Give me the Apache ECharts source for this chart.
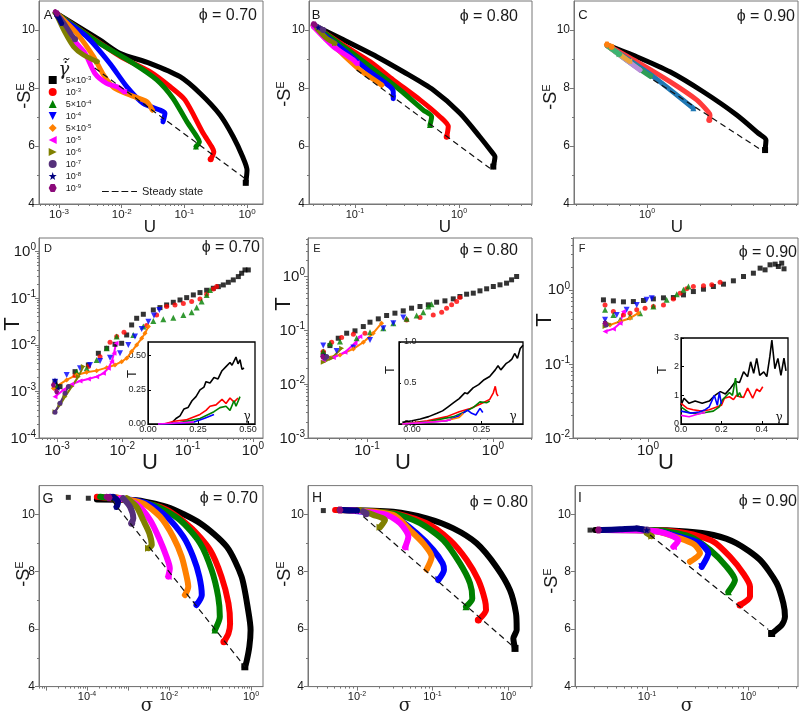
<!DOCTYPE html>
<html><head><meta charset="utf-8">
<script src="https://cdn.jsdelivr.net/npm/echarts@6/dist/echarts.min.js"></script>
<style>html,body{margin:0;padding:0;background:#fff}#c{width:800px;height:714px}</style>
</head><body><div id="c"></div><script>
// ================= DATA =================
// strain-rate labels (legend) and steady-state label
const rateLabels = ['5×10^-3','10^-3','5×10^-4','10^-4','5×10^-5','10^-5','10^-6','10^-7','10^-8','10^-9'];
const steadyLabel = 'Steady state';

// Panel A (phi = 0.70): [log10 U, -S^E]
const A_curves = [
 [[-3.06,10.60],[-2.35,9.66],[-2.03,9.20],[-1.55,8.85],[-1.07,8.39],[-0.75,7.82],[-0.43,7.07],[-0.22,6.32],[-0.07,5.63],[0.00,5.17],[-0.02,4.73]],
 [[-3.06,10.60],[-2.03,9.10],[-1.55,8.56],[-1.23,8.05],[-0.99,7.59],[-0.70,6.44],[-0.565,5.98],[-0.53,5.80],[-0.58,5.54]],
 [[-3.06,10.60],[-2.35,9.54],[-1.815,8.85],[-1.44,8.28],[-1.18,7.64],[-0.96,6.84],[-0.80,6.32],[-0.76,6.15],[-0.815,5.98]],
 [[-3.04,10.52],[-2.56,9.77],[-2.19,8.85],[-1.92,8.05],[-1.655,7.47],[-1.39,7.24],[-1.31,7.13],[-1.34,6.84]],
 [[-3.01,10.52],[-2.72,9.89],[-2.45,9.08],[-2.29,8.45],[-2.13,8.02],[-1.87,7.76],[-1.60,7.53],[-1.51,7.24]],
 [[-3.04,10.52],[-2.88,10.0],[-2.72,9.54],[-2.585,9.20],[-2.43,8.51],[-2.24,8.16],[-2.05,8.02],[-1.96,7.87]],
 [[-3.04,10.52],[-2.90,9.89],[-2.77,9.43],[-2.61,9.14],[-2.39,8.91]],
 [[-3.03,10.55],[-2.90,10.17],[-2.80,9.83],[-2.745,9.68]],
 [[-3.04,10.52],[-3.0,10.40],[-2.96,10.23]],
 [[-3.06,10.63],[-3.03,10.57]]
];
const A_steady = [[-2.43,8.69],[0.0,4.83]];

// Panel B (phi = 0.80): [log10 U, -S^E]
const B_curves = [
 [[-1.40,10.17],[-1.11,9.66],[-0.79,9.08],[-0.535,8.56],[-0.247,7.93],[0.01,7.13],[0.20,6.32],[0.314,5.80],[0.346,5.63],[0.33,5.29]],
 [[-1.40,10.17],[-1.11,9.48],[-0.856,8.91],[-0.632,8.28],[-0.375,7.59],[-0.183,7.01],[-0.103,6.67],[-0.118,6.32]],
 [[-1.40,10.17],[-1.11,9.43],[-0.856,8.74],[-0.567,7.93],[-0.343,7.24],[-0.263,7.01],[-0.279,6.72]],
 [[-1.40,10.12],[-1.11,9.31],[-0.856,8.56],[-0.663,8.05],[-0.632,7.87],[-0.632,7.64]],
 [[-1.40,10.12],[-1.144,9.25],[-0.952,8.62],[-0.79,8.22],[-0.743,8.10]],
 [[-1.40,10.12],[-1.209,9.43],[-1.016,8.97],[-0.984,8.85]],
 [[-1.37,10.07],[-1.272,9.71],[-1.192,9.54]],
 [[-1.385,10.17],[-1.305,10.0]],
 [[-1.353,10.09]],
 [[-1.40,10.21],[-1.39,10.19]]
];
const B_steady = [[-0.984,8.62],[0.298,5.23]];

// Panel C (phi = 0.90): [log10 U, -S^E]
const C_curves = [
 [[-0.224,9.48],[-0.058,9.08],[0.13,8.56],[0.318,7.87],[0.507,7.07],[0.629,6.44],[0.672,6.21],[0.667,5.86]],
 [[-0.224,9.48],[-0.058,8.91],[0.13,8.22],[0.281,7.59],[0.346,7.18],[0.356,7.07],[0.352,6.90]],
 [[-0.224,9.46],[0.036,8.39],[0.262,7.30]],
 [[-0.224,9.46],[-0.10,8.90],[0.02,8.40]],
 [[-0.224,9.46],[-0.04,8.62]],
 [[-0.224,9.46],[-0.10,8.92]],
 [[-0.224,9.46],[-0.155,9.16]],
 [[-0.226,9.50],[-0.20,9.42]],
 [[-0.224,9.48]],
 [[-0.226,9.50]]
];
const C_steady = [[0.036,8.28],[0.661,5.80]];

// Panel D (phi = 0.70): [log10 U, log10 T]
const D_points = [
 [[-3.031,-2.791],[-2.954,-2.898],[-2.724,-2.577],[-2.520,-2.433],[-2.367,-2.183],[-2.239,-2.076],[-2.112,-1.990],[-2.010,-1.969],[-1.933,-1.790],[-1.857,-1.575],[-1.780,-1.432],[-1.678,-1.346],[-1.525,-1.253],[-1.423,-1.203],[-1.321,-1.146],[-1.219,-1.089],[-1.116,-1.039],[-1.014,-0.989],[-0.912,-0.931],[-0.810,-0.881],[-0.708,-0.831],[-0.606,-0.788],[-0.529,-0.753],[-0.453,-0.717],[-0.376,-0.660],[-0.300,-0.609],[-0.223,-0.538],[-0.172,-0.466],[-0.121,-0.395],[-0.070,-0.395]],
 [[-3.031,-2.934],[-2.724,-2.662],[-2.520,-2.469],[-2.341,-2.255],[-2.188,-1.947],[-2.086,-1.825],[-1.974,-1.733],[-1.627,-1.589],[-1.474,-1.360],[-1.321,-1.182],[-1.193,-1.146],[-1.065,-1.117],[-0.938,-1.074],[-0.810,-1.017],[-0.708,-0.917],[-0.606,-0.803],[-0.555,-0.753]],
 [[-3.005,-2.898],[-2.699,-2.577],[-2.546,-2.505],[-2.393,-2.326],[-2.239,-2.076],[-2.086,-1.825],[-1.831,-1.790],[-1.678,-1.611],[-1.525,-1.489],[-1.372,-1.453],[-1.219,-1.418],[-1.065,-1.361],[-0.938,-1.303],[-0.861,-1.203],[-0.785,-1.074],[-0.708,-0.931],[-0.657,-0.824]],
 [[-3.031,-2.791],[-2.852,-2.648],[-2.648,-2.505],[-2.495,-2.433],[-2.341,-2.347],[-2.188,-2.276],[-2.035,-2.183],[-1.908,-2.004],[-1.806,-1.825],[-1.703,-1.661],[-1.601,-1.504],[-1.515,-1.375],[-1.433,-1.253]],
 [[-3.056,-2.934],[-2.852,-2.755],[-2.699,-2.648],[-2.546,-2.591],[-2.393,-2.555],[-2.239,-2.491],[-2.112,-2.433],[-2.010,-2.362],[-1.933,-2.290],[-1.857,-2.147],[-1.780,-2.004],[-1.703,-1.861],[-1.652,-1.754],[-1.601,-1.611]],
 [[-3.031,-3.113],[-2.903,-2.970],[-2.775,-2.848],[-2.648,-2.777],[-2.520,-2.734],[-2.393,-2.684],[-2.290,-2.612],[-2.214,-2.505],[-2.163,-2.362],[-2.127,-2.183],[-2.096,-1.969]],
 [[-3.031,-3.435],[-2.954,-3.292],[-2.877,-3.113],[-2.775,-2.898],[-2.673,-2.684],[-2.597,-2.469]],
 [[-3.031,-3.449],[-2.954,-3.256],[-2.877,-3.041],[-2.826,-2.898]],
 [[-3.031,-2.755],[-2.980,-2.934]],
 [[-3.056,-2.863],[-3.005,-3.006]]
];
// Panel D inset: [gamma, T]
const D_inset = [
 [[0.05,0.0],[0.09,0.0],[0.12,0.01],[0.14,0.04],[0.16,0.06],[0.18,0.11],[0.20,0.12],[0.22,0.17],[0.24,0.20],[0.26,0.25],[0.28,0.27],[0.29,0.31],[0.31,0.30],[0.33,0.34],[0.35,0.33],[0.37,0.39],[0.39,0.42],[0.41,0.45],[0.42,0.43],[0.44,0.49],[0.45,0.44],[0.46,0.47],[0.47,0.40],[0.48,0.41]],
 [[0.05,0.0],[0.08,0.0],[0.13,0.02],[0.19,0.03],[0.26,0.07],[0.29,0.10],[0.31,0.13],[0.34,0.14],[0.37,0.18],[0.39,0.15],[0.41,0.19],[0.43,0.16],[0.45,0.19]],
 [[0.05,0.0],[0.10,0.0],[0.16,0.01],[0.26,0.04],[0.33,0.09],[0.36,0.12],[0.39,0.13],[0.41,0.10],[0.43,0.17],[0.44,0.13],[0.46,0.20]],
 [[0.05,0.0],[0.08,0.0],[0.16,0.005],[0.23,0.015],[0.28,0.04],[0.33,0.07]],
 [],
 [[0.05,0.0],[0.23,0.015]]
];

// Panel E (phi = 0.80): [log10 U, log10 T]
const E_points = [
 [[-1.347,-1.423],[-1.294,-1.281],[-1.228,-1.144],[-1.161,-1.051],[-1.095,-1.007],[-1.029,-0.927],[-0.976,-0.846],[-0.910,-0.784],[-0.844,-0.722],[-0.778,-0.678],[-0.712,-0.635],[-0.646,-0.585],[-0.579,-0.554],[-0.513,-0.523],[-0.447,-0.474],[-0.381,-0.449],[-0.315,-0.412],[-0.262,-0.368],[-0.209,-0.325],[-0.156,-0.306],[-0.103,-0.263],[-0.050,-0.225],[0.003,-0.182],[0.056,-0.151],[0.108,-0.120],[0.148,-0.058],[0.188,0.004]],
 [[-1.347,-1.392],[-1.280,-1.219],[-1.201,-1.132],[-1.108,-1.070],[-1.016,-1.051],[-0.685,-0.803],[-0.579,-0.759],[-0.474,-0.710],[-0.407,-0.660],[-0.368,-0.585],[-0.328,-0.523],[-0.288,-0.461],[-0.262,-0.387]],
 [[-1.347,-1.392],[-1.294,-1.237],[-1.214,-1.206],[-1.082,-1.144],[-0.976,-1.032],[-0.870,-0.958],[-0.791,-0.865],[-0.685,-0.784],[-0.606,-0.722],[-0.553,-0.660],[-0.513,-0.554],[-0.487,-0.511]],
 [[-1.347,-1.281],[-1.241,-1.380],[-1.108,-1.318],[-0.976,-1.175],[-0.870,-0.958],[-0.791,-0.865],[-0.712,-0.759]],
 [[-1.347,-1.516],[-1.214,-1.454],[-1.108,-1.343],[-1.029,-1.219],[-0.950,-1.051],[-0.884,-0.865]],
 [[-1.347,-1.547],[-1.267,-1.504],[-1.175,-1.405],[-1.095,-1.237],[-1.056,-1.113]],
 [[-1.347,-1.591],[-1.280,-1.516],[-1.201,-1.330]],
 [[-1.333,-1.516],[-1.320,-1.485]],
 [[-1.347,-1.454]],
 [[-1.352,-1.485]]
];
// Panel E inset: [gamma, T]
const E_inset = [
 [[-0.035,0.02],[0.0,0.04],[0.03,0.06],[0.06,0.09],[0.09,0.13],[0.11,0.16],[0.13,0.21],[0.15,0.26],[0.17,0.31],[0.19,0.38],[0.20,0.37],[0.22,0.44],[0.24,0.48],[0.26,0.54],[0.28,0.58],[0.30,0.66],[0.31,0.71],[0.32,0.66],[0.34,0.74],[0.35,0.76],[0.36,0.79],[0.37,0.86],[0.38,0.80],[0.39,0.92],[0.40,0.96]],
 [[-0.035,0.0],[0.055,0.04],[0.125,0.09],[0.17,0.15],[0.21,0.19],[0.245,0.24],[0.28,0.30],[0.293,0.38],[0.30,0.46],[0.305,0.37],[0.31,0.34]],
 [[-0.035,0.0],[0.06,0.03],[0.15,0.09],[0.185,0.14],[0.22,0.20],[0.245,0.27],[0.27,0.26],[0.28,0.28]],
 [[-0.035,0.0],[0.125,0.04],[0.17,0.10],[0.20,0.17],[0.215,0.13],[0.23,0.11],[0.245,0.19],[0.255,0.14]],
 [[-0.035,0.0],[0.12,0.04],[0.17,0.08],[0.185,0.13]],
 [[-0.035,0.0],[0.10,0.03],[0.14,0.05]]
];

// Panel F (phi = 0.90): [log10 U, log10 T]
const F_points = [
 [[-0.252,-0.135],[-0.196,-0.149],[-0.139,-0.162],[-0.083,-0.158],[-0.026,-0.144],[0.030,-0.122],[0.087,-0.108],[0.143,-0.104],[0.200,-0.068],[0.256,-0.023],[0.313,0.009],[0.369,0.045],[0.426,0.077],[0.482,0.122],[0.539,0.180],[0.595,0.225],[0.633,0.293],[0.661,0.270],[0.689,0.338],[0.718,0.347],[0.736,0.315],[0.755,0.360],[0.768,0.284]],
 [[-0.243,-0.203],[-0.196,-0.293],[-0.139,-0.338],[-0.102,-0.315],[-0.064,-0.270],[-0.017,-0.248],[0.030,-0.225],[0.087,-0.203],[0.143,-0.122],[0.181,-0.045],[0.218,0.014],[0.256,0.045],[0.313,0.054],[0.360,0.068],[0.407,0.104]],
 [[-0.243,-0.270],[-0.196,-0.338],[-0.158,-0.405],[-0.102,-0.360],[-0.045,-0.315],[0.030,-0.225],[0.105,-0.135],[0.162,-0.059],[0.200,0.0],[0.228,0.045]],
 [[-0.243,-0.405],[-0.177,-0.338],[-0.121,-0.270],[-0.064,-0.203],[-0.008,-0.135],[0.021,-0.113]],
 [[-0.215,-0.473],[-0.158,-0.428],[-0.102,-0.383],[-0.055,-0.315]],
 [[-0.243,-0.563],[-0.196,-0.527],[-0.158,-0.450],[-0.139,-0.293]],
 [[-0.243,-0.495],[-0.218,-0.464]],
 [[-0.237,-0.473]],
 [[-0.243,-0.428]],
 [[-0.243,-0.450]]
];
// Panel F inset: [gamma, T]
const F_inset = [
 [[0.0,0.66],[0.015,0.9],[0.04,0.72],[0.07,0.8],[0.105,0.72],[0.14,0.8],[0.17,1.01],[0.195,1.13],[0.22,1.05],[0.245,1.25],[0.27,1.48],[0.29,1.45],[0.31,1.82],[0.33,1.65],[0.345,2.17],[0.36,1.77],[0.375,2.29],[0.39,1.7],[0.41,1.82],[0.425,1.65],[0.44,2.35],[0.45,2.93],[0.465,1.93],[0.48,2.29],[0.495,1.7],[0.51,2.3],[0.52,1.85]],
 [[0.0,0.72],[0.03,0.55],[0.06,0.5],[0.1,0.45],[0.14,0.5],[0.18,0.6],[0.2,0.65],[0.215,0.9],[0.24,0.95],[0.26,0.85],[0.275,1.0],[0.29,0.95],[0.31,0.93],[0.33,1.25],[0.355,0.9],[0.375,1.22],[0.39,1.13],[0.405,1.3]],
 [[0.0,0.6],[0.04,0.4],[0.08,0.35],[0.12,0.4],[0.16,0.45],[0.19,0.6],[0.205,0.84],[0.22,0.95],[0.24,1.1],[0.255,1.0],[0.27,1.6],[0.28,0.95],[0.29,1.1],[0.30,0.93]],
 [[0.0,0.45],[0.05,0.38],[0.09,0.42],[0.12,0.5],[0.14,0.6],[0.165,1.0],[0.18,0.65],[0.19,1.1],[0.2,0.7]],
 [],
 [[0.0,0.3],[0.04,0.25],[0.09,0.36],[0.12,0.4]]
];

// Panel G (phi = 0.70): [log10 sigma, -S^E]
const G_curves = [
 [[-3.76,10.52],[-2.87,10.50],[-2.06,10.26],[-1.24,9.69],[-0.59,8.87],[-0.23,7.83],[-0.07,6.67],[-0.01,5.97],[-0.04,5.39],[-0.11,4.86],[-0.15,4.69]],
 [[-3.76,10.61],[-2.22,10.26],[-1.49,9.57],[-1.00,8.76],[-0.72,7.83],[-0.55,6.90],[-0.51,6.20],[-0.55,5.85],[-0.66,5.56]],
 [[-3.68,10.61],[-2.38,10.32],[-1.73,9.80],[-1.24,8.99],[-0.96,8.06],[-0.80,7.13],[-0.76,6.43],[-0.88,5.97]],
 [[-3.44,10.61],[-2.54,10.38],[-2.06,9.92],[-1.65,9.22],[-1.41,8.52],[-1.26,7.83],[-1.20,7.19],[-1.33,6.84]],
 [[-3.28,10.59],[-2.63,10.38],[-2.22,9.92],[-1.90,9.22],[-1.69,8.52],[-1.57,7.83],[-1.53,7.48],[-1.61,7.19]],
 [[-3.20,10.56],[-2.79,10.35],[-2.46,9.80],[-2.22,9.10],[-2.06,8.52],[-1.98,8.12],[-2.02,7.83]],
 [[-3.03,10.56],[-2.79,10.26],[-2.63,9.80],[-2.48,9.34],[-2.42,8.93],[-2.50,8.82]],
 [[-3.12,10.56],[-2.95,10.26],[-2.87,9.86],[-2.91,9.69]],
 [[-3.36,10.61],[-3.24,10.44],[-3.28,10.26]],
 [[-3.52,10.61],[-3.46,10.58]]
];
const G_sparse = [[-4.456,10.59],[-3.968,10.56]];
const G_steady = [[-3.40,10.50],[-0.146,4.69]];

// Panel H (phi = 0.80): [log10 sigma, -S^E]
const H_curves = [
 [[-2.225,10.15],[-1.519,10.09],[-1.077,9.86],[-0.724,9.51],[-0.415,8.99],[-0.15,8.16],[0.026,7.36],[0.106,6.55],[0.115,5.97],[0.071,5.68],[0.093,5.33]],
 [[-2.29,10.15],[-1.52,10.04],[-1.077,9.69],[-0.768,9.10],[-0.547,8.41],[-0.393,7.71],[-0.305,7.01],[-0.291,6.67],[-0.393,6.32]],
 [[-2.23,10.15],[-1.52,10.03],[-1.166,9.69],[-0.857,9.10],[-0.636,8.29],[-0.503,7.60],[-0.473,7.07],[-0.556,6.78]],
 [[-2.18,10.15],[-1.519,9.92],[-1.209,9.34],[-0.989,8.76],[-0.865,8.29],[-0.848,8.06],[-0.923,7.71]],
 [[-2.14,10.15],[-1.52,9.98],[-1.298,9.45],[-1.122,8.99],[-1.011,8.52],[-1.077,8.08]],
 [[-2.10,10.15],[-1.607,9.98],[-1.43,9.69],[-1.32,9.22],[-1.364,8.85]],
 [[-1.96,10.15],[-1.784,9.98],[-1.629,9.80],[-1.695,9.55]],
 [[-1.92,10.10],[-1.88,10.02]],
 [[-2.18,10.15],[-2.00,10.13]],
 [[-2.225,10.15]]
];
const H_sparse = [[-2.446,10.13]];
const H_steady = [[-1.916,9.92],[0.07,5.39]];

// Panel I (phi = 0.90): [log10 sigma, -S^E]
const I_curves = [
 [[-1.515,9.45],[-1.003,9.45],[-0.607,9.40],[-0.343,9.28],[-0.112,8.99],[0.119,8.41],[0.284,7.60],[0.35,6.90],[0.366,6.43],[0.333,6.14],[0.234,5.85]],
 [[-1.48,9.45],[-1.003,9.45],[-0.607,9.34],[-0.343,9.05],[-0.178,8.52],[-0.047,7.94],[0.02,7.48],[0.02,7.13],[-0.079,6.84]],
 [[-1.45,9.45],[-0.94,9.45],[-0.574,9.22],[-0.376,8.76],[-0.211,8.17],[-0.129,7.71],[-0.195,7.30]],
 [[-1.45,9.45],[-0.93,9.42],[-0.673,9.22],[-0.475,8.99],[-0.393,8.64],[-0.458,8.17]],
 [[-1.42,9.45],[-0.93,9.42],[-0.673,9.16],[-0.525,8.93],[-0.475,8.64],[-0.574,8.35]],
 [[-1.40,9.45],[-0.93,9.42],[-0.772,9.28],[-0.69,9.10],[-0.739,8.87]],
 [[-1.003,9.34],[-0.953,9.24]],
 [[-1.10,9.51],[-1.0,9.45]],
 [[-1.45,9.45],[-1.267,9.48],[-1.102,9.51],[-1.003,9.45]],
 [[-1.48,9.45]]
];
const I_sparse = [[-1.564,9.45]];
const I_steady = [[-0.97,9.28],[0.201,5.99]];

// tick label values (exponents for log axes)
const A_xTicks = [-3,-2,-1,0], B_xTicks = [-1,0], C_xTicks = [0];
const D_xTicks = [-3,-2,-1,0], E_xTicks = [-1,0], F_xTicks = [0];
const D_yTicks = [-4,-3,-2,-1,0], E_yTicks = [-3,-2,-1,0], F_yTicks = [-2,-1,0];
const G_xTicks = [-4,-2,0], H_xTicks = [-2,-1,0], I_xTicks = [-1,0];
const S_yTicks = [4,6,8,10];
const Di_xTicks=[0,0.25,0.5], Di_yTicks=[0,0.25,0.5];
const Ei_xTicks=[0,0.25], Ei_yTicks=[0,0.5,1.0];
const Fi_xTicks=[0,0.2,0.4], Fi_yTicks=[0,1,2,3];

// ================= STYLE / LAYOUT =================
const FONT = '"Liberation Sans", Arial, sans-serif';
const AXC = '#777';
const TXT = '#1a1a1a';
const colors = ['#000000','#ff0000','#008000','#0000ff','#ff8000','#ff00ff','#808000','#55307a','#000080','#8b0a7a'];
const colorsC = ['#000000','#ff3b3b','#1f78b4','#2e9d57','#b98fd9','#e8a33c','#3cb371','#ff7f0e','#1f78b4','#ff7f0e'];
const P_DOWN='path://M0,0L10,0L5,10Z', P_LEFT='path://M10,0L10,10L0,5Z', P_RIGHT='path://M0,0L0,10L10,5Z';
const P_STAR='path://M5,0L6.2,3.6L10,3.8L7,6.1L8.1,9.8L5,7.6L1.9,9.8L3,6.1L0,3.8L3.8,3.6Z';
const P_HEX='path://M2.5,0L7.5,0L10,5L7.5,10L2.5,10L0,5Z';
const P_DASH='path://M0,0h7v1h-7zM10,0h7v1h-7zM20,0h7v1h-7zM30,0h6v1h-6z';
const symbols = ['rect','circle','triangle',P_DOWN,'diamond',P_LEFT,P_RIGHT,'circle',P_STAR,P_HEX];

const grids=[], xAxes=[], yAxes=[], series=[], graphics=[];

function supRich(fs){
  const s=Math.round(fs*0.68);
  return { b:{fontSize:fs,lineHeight:fs+1,verticalAlign:'bottom',color:TXT,fontFamily:FONT},
           s:{fontSize:s,lineHeight:s,verticalAlign:'bottom',padding:[0,0,Math.round(fs*0.45),0],color:TXT,fontFamily:FONT} };
}
function supRichG(fs){
  const s=Math.round(fs*0.62);
  return { b:{fontSize:fs,lineHeight:fs+1,verticalAlign:'bottom',fill:TXT,fontFamily:FONT},
           s:{fontSize:s,lineHeight:s,verticalAlign:'bottom',padding:[0,0,Math.round(fs*0.45),0],fill:TXT,fontFamily:FONT} };
}
const powFmt = v => '{b|10}{s|' + (v<0 ? '-'+(-v) : v) + '}';
function logMajor(min,max){const a=[];for(let n=Math.ceil(min);n<=Math.floor(max);n++)a.push(n);return a;}
function logMinor(min,max){const a=[];for(let n=Math.floor(min);n<=Math.ceil(max);n++)for(let k=2;k<=9;k++){const v=n+Math.log10(k);if(v>min+1e-6&&v<max-1e-6)a.push(v);}return a;}

function axis(dim, gi, p){
  const arr = dim==='x'?xAxes:yAxes; const idx=arr.length;
  arr.push({type:'value',gridIndex:gi,min:p.min,max:p.max,position:dim==='x'?'bottom':'left',
    axisLine:{show:true,onZero:false,lineStyle:{color:p.lc||AXC,width:1}},
    axisTick:{show:true,customValues:p.major,length:p.tl||4,inside:!!p.ti,lineStyle:{color:p.lc||AXC}},
    axisLabel:{show:true,customValues:p.labels,formatter:p.fmt,rich:p.rich,margin:p.margin,inside:!!p.li,
      fontSize:p.fs,color:TXT,fontFamily:FONT,hideOverlap:false},
    splitLine:{show:false},silent:true});
  if(p.minor&&p.minor.length){
    arr.push({type:'value',gridIndex:gi,min:p.min,max:p.max,position:dim==='x'?'bottom':'left',
      axisLine:{show:false,onZero:false},axisTick:{show:true,customValues:p.minor,length:2,lineStyle:{color:p.lc||AXC}},
      axisLabel:{show:false},splitLine:{show:false},silent:true});
  }
  return idx;
}
function grid(l,t,w,h,opt){grids.push(Object.assign({left:l,top:t,width:w,height:h,show:true,borderColor:AXC,borderWidth:1,containLabel:false},opt||{}));return grids.length-1;}

// thick curve: marker only at the final point (and for single points)
function curveSeries(xi,yi,name,data,color,sym,lw,ss,smooth){
  const last=data.length-1;
  series.push({type:'line',name,xAxisIndex:xi,yAxisIndex:yi,data,showSymbol:true,symbol:sym,
    symbolSize:(v,p)=>p.dataIndex===last?ss:0.01,smooth:smooth||false,
    itemStyle:{color},lineStyle:{color,width:lw,cap:'round',join:'round'},animation:false,silent:true,z:3});
}
function pointLine(xi,yi,name,data,color,sym,lw,ss){
  series.push({type:'line',name,xAxisIndex:xi,yAxisIndex:yi,data,showSymbol:true,symbol:sym,symbolSize:ss,
    itemStyle:{color},lineStyle:{color,width:lw},animation:false,silent:true,z:3});
}
function scatterSeries(xi,yi,name,data,color,sym,ss){
  series.push({type:'scatter',name,xAxisIndex:xi,yAxisIndex:yi,data,symbol:sym,symbolSize:ss,itemStyle:{color},animation:false,silent:true,z:3});
}
function steadySeries(xi,yi,data){
  series.push({type:'line',name:steadyLabel,xAxisIndex:xi,yAxisIndex:yi,data,showSymbol:false,symbol:'none',
    itemStyle:{color:'#111'},lineStyle:{color:'#111',width:1.2,type:[6,4]},animation:false,silent:true,z:4});
}

// Panel builder for S^E panels (rows 1 and 3)
function sPanel(rect, xr, xLab, curves, cols, steady, lw, xFs, sparse){
  const g=grid(...rect);
  const xi=axis('x',g,{min:xr[0],max:xr[1],major:logMajor(xr[0],xr[1]),minor:logMinor(xr[0],xr[1]),labels:xLab,fmt:powFmt,rich:supRich(xFs),margin:4,fs:xFs});
  const yi=axis('y',g,{min:4,max:11,major:[4,6,8,10],minor:[5,7,9],labels:S_yTicks,fs:12,margin:4});
  steadySeries(xi,yi,steady);
  if(sparse) scatterSeries(xi,yi,rateLabels[0],sparse,cols[0],'rect',5);
  curves.forEach((d,i)=>curveSeries(xi,yi,rateLabels[i],d,cols[i],symbols[i],lw,lw+1,0.25));
}
// Panel builder for T panels (row 2)
function tPanel(rect, xr, yr, xLab, yLab, pts){
  const g=grid(...rect);
  const xi=axis('x',g,{min:xr[0],max:xr[1],major:logMajor(xr[0],xr[1]),minor:logMinor(xr[0],xr[1]),labels:xLab,fmt:powFmt,rich:supRich(15),margin:4,fs:15});
  const yi=axis('y',g,{min:yr[0],max:yr[1],major:logMajor(yr[0],yr[1]),minor:logMinor(yr[0],yr[1]),labels:yLab,fmt:powFmt,rich:supRich(15),margin:3,fs:15});
  pts.forEach((d,i)=>{
    if(i<4) scatterSeries(xi,yi,rateLabels[i],d,colors[i],symbols[i],i<2?5:6);
    else pointLine(xi,yi,rateLabels[i],d,colors[i],symbols[i],2,5);
  });
}
function inset(rect, xr, yr, xLab, yLab, xFmt, yFmt, lines, yInside){
  const g=grid(rect[0],rect[1],rect[2],rect[3],{borderColor:'#000',borderWidth:1.3,backgroundColor:'#fff'});
  const xi=axis('x',g,{min:xr[0],max:xr[1],major:xLab,labels:xLab,fmt:xFmt,margin:1,fs:9,lc:'#000',tl:3,ti:true});
  const yi=axis('y',g,{min:yr[0],max:yr[1],major:yLab,labels:yLab,fmt:yFmt,margin:yInside?5:2,fs:9,lc:'#000',tl:yInside?2:3,ti:true,li:yInside});
  lines.forEach((d,i)=>{ if(d.length) series.push({type:'line',name:'inset-'+i,xAxisIndex:xi,yAxisIndex:yi,data:d,showSymbol:false,symbol:'none',
    lineStyle:{color:colors[i],width:1.6},animation:false,silent:true,z:5}); });
}

// ---- Row 1 ----
sPanel([39,1,224,203],[-3.32,0.255],A_xTicks,A_curves,colors,A_steady,5,11.5);
sPanel([309,1,223,203],[-1.442,0.702],B_xTicks,B_curves,colors,B_steady,5,11);
sPanel([574,1,224,203],[-0.412,0.853],C_xTicks,C_curves,colorsC,C_steady,5,11);
// ---- Row 2 ----
tPanel([39,238,224,200],[-3.276,0.155],[-4,0.29],D_xTicks,D_yTicks,D_points);
tPanel([308,238,224,200],[-1.468,0.31],[-3,0.72],E_xTicks,E_yTicks,E_points);
tPanel([573,238,225,200],[-0.424,0.847],[-2,0.70],F_xTicks,F_yTicks,F_points);
// ---- Row 3 ----
sPanel([39,485.6,224,201],[-5.171,0.293],G_xTicks,G_curves,colors,G_steady,6,11,G_sparse);
sPanel([308,485.6,224,201],[-2.649,0.318],H_xTicks,H_curves,colors,H_steady,6,11,H_sparse);
sPanel([575,485.6,223,201],[-1.713,0.495],I_xTicks,I_curves,colors,I_steady,6,11,I_sparse);
// ---- Insets ----
inset([148,342,107,82],[0,0.535],[0,0.6],Di_xTicks,Di_yTicks,v=>v.toFixed(2),v=>v.toFixed(2),D_inset,false);
inset([399,342,124,82],[-0.047,0.40],[0,1.0],Ei_xTicks,Ei_yTicks,v=>v.toFixed(2),v=>v.toFixed(1),E_inset,true);
inset([681,338,107,86],[0,0.53],[0,3],Fi_xTicks,Fi_yTicks,v=>v.toFixed(1),v=>v.toFixed(0),F_inset,false);

// ---- Texts: panel letters, phi labels, axis names ----
function txt(x,y,text,fs,extra){graphics.push(Object.assign({type:'text',x,y,silent:true,z:50,style:Object.assign({text,fontSize:fs,fontFamily:FONT,fill:TXT,align:'center',verticalAlign:'middle'},extra||{})}));}
[['A',48,15,13],['B',316,15,13],['C',583,15,13],['D',48,249,11],['E',317,249,11],['F',582,249,11],['G',48,499,14],['H',317,498,14],['I',580,498,14]]
 .forEach(a=>txt(a[1],a[2],a[0],a[3]));
[['ϕ = 0.70',257,16],['ϕ = 0.80',518,17],['ϕ = 0.90',795,17],['ϕ = 0.70',260,248],['ϕ = 0.80',518,251],['ϕ = 0.90',797,253],['ϕ = 0.70',258,499],['ϕ = 0.80',528,503],['ϕ = 0.90',797,502]]
 .forEach(a=>txt(a[1],a[2],a[0],16,{align:'right'}));
// x-axis names
[['U',150,227,17],['U',445,227,17],['U',677,227,17],['U',150,463,22],['U',403,463,22],['U',666,463,22],['σ',147,706,18],['σ',405,706,18],['σ',687,706,18]]
 .forEach(a=>txt(a[1],a[2],a[0],a[3],{fontFamily:a[0]==='σ'?'"DejaVu Serif", serif':FONT}));
// y-axis names
function yName(x,y,text,rich){graphics.push({type:'text',x,y,rotation:Math.PI/2,silent:true,z:50,style:{text,rich,align:'center',verticalAlign:'middle',fontFamily:FONT,fill:TXT}});}
const SE = '{b|-S}{s|E}';
[[25,96],[285,94],[551,97],[24,574],[285,574],[552,581]].forEach(p=>yName(p[0],p[1],SE,supRichG(18)));
[[13,324],[284,304],[545,320]].forEach(p=>yName(p[0],p[1],'{b|T}',{b:{fontSize:22,fill:TXT,fontFamily:FONT}}));
[[132,374],[390,370],[662,370]].forEach(p=>yName(p[0],p[1],'{b|T}',{b:{fontSize:13,fill:TXT,fontFamily:FONT}}));
[[247,417],[513,417],[779,418]].forEach(p=>txt(p[0],p[1],'γ',12,{fontFamily:'"DejaVu Serif", serif'}));
// legend title (dimensionless shear rate)
txt(64,70,'γ̇̃',18,{fontFamily:'"DejaVu Serif", serif',fontStyle:'italic'});

// ================= OPTION =================
const legendRich = {b:{fontSize:9,lineHeight:10,verticalAlign:'bottom',color:TXT,fontFamily:FONT},
                    s:{fontSize:6,lineHeight:6,verticalAlign:'bottom',padding:[0,0,4,0],color:TXT,fontFamily:FONT}};
const option = {
  animation:false,
  textStyle:{fontFamily:FONT},
  grid:grids, xAxis:xAxes, yAxis:yAxes, series,
  legend:[{
    data: rateLabels.map((n,i)=>({name:n,icon:symbols[i],itemStyle:{color:colors[i]}})),
    orient:'vertical',left:48.7,top:75,padding:0,itemWidth:8,itemHeight:8,itemGap:2,selectedMode:false,
    formatter:n=>'{b|'+n.replace(/\^(-?\d+)/,'}{s|$1')+'}',
    textStyle:{rich:legendRich,padding:[0,0,0,4]}
  },{
    data:[{name:steadyLabel,icon:P_DASH,itemStyle:{color:'#111'}}],left:102,top:186,padding:0,itemWidth:35,itemHeight:1.6,selectedMode:false,
    textStyle:{fontSize:11,color:TXT,fontFamily:FONT}
  }],
  graphic:graphics
};
const chart = echarts.init(document.getElementById('c'),null,{renderer:'canvas'});
chart.setOption(option);
</script></body></html>
